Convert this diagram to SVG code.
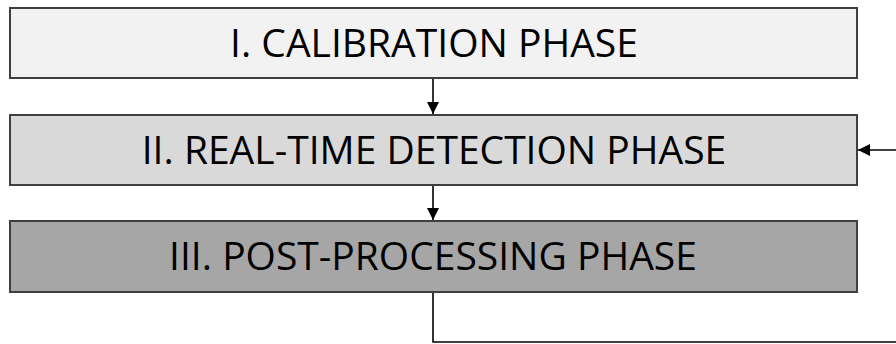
<svg xmlns="http://www.w3.org/2000/svg" width="896" height="344" viewBox="0 0 896 344">
  <style>
    .box { stroke: #3f3f3f; stroke-width: 2; }
    .label { font-family: "Open Sans", "Liberation Sans", sans-serif; font-size: 39px; fill: #000; text-anchor: middle; }
    .wire { fill: none; stroke: #000; stroke-width: 1.6; }
  </style>
  <defs>
    <marker id="head" viewBox="0 0 12 12" refX="12" refY="6" markerWidth="12" markerHeight="12" markerUnits="userSpaceOnUse" orient="auto">
      <path d="M0,0 L12,6 L0,12 Z" fill="#000"/>
    </marker>
  </defs>
  <rect width="896" height="344" fill="#fff"/>

  <g id="calibration">
    <rect class="box" x="10" y="8" width="847" height="70" fill="#f2f2f2"/>
    <text class="label" x="434" y="57">I. CALIBRATION PHASE</text>
  </g>
  <g id="detection">
    <rect class="box" x="10" y="115" width="847" height="70" fill="#d9d9d9"/>
    <text class="label" x="434" y="164">II. REAL-TIME DETECTION PHASE</text>
  </g>
  <g id="postprocessing">
    <rect class="box" x="10" y="221" width="847" height="71" fill="#a6a6a6"/>
    <text class="label" x="433" y="270">III. POST-PROCESSING PHASE</text>
  </g>

  <g id="connectors">
    <line class="wire" x1="433" y1="79" x2="433" y2="114" marker-end="url(#head)"/>
    <line class="wire" x1="433" y1="186" x2="433" y2="220" marker-end="url(#head)"/>
    <polyline class="wire" points="433,293 433,342 896,342"/>
    <line class="wire" x1="896" y1="150" x2="858" y2="150" marker-end="url(#head)"/>
  </g>
</svg>
